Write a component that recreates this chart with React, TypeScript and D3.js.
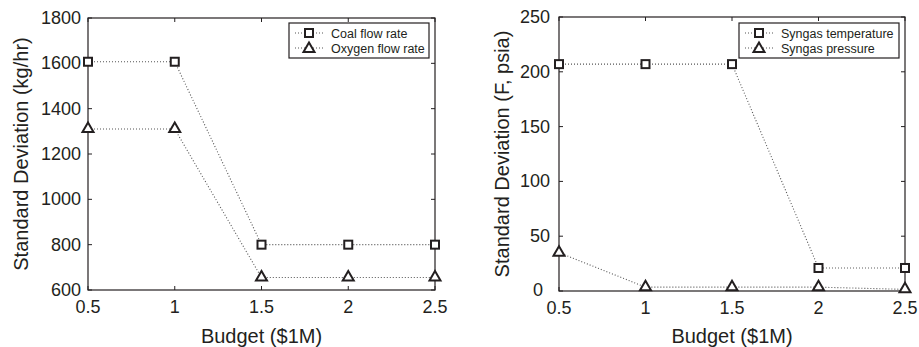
import { useEffect, useRef } from "react";
import * as d3 from "d3";

const budgets = [0.5, 1, 1.5, 2, 2.5];
const xTicks = [0.5, 1, 1.5, 2, 2.5];

const coalFlow = [1607, 1607, 800, 800, 800];
const oxygenFlow = [1310, 1310, 655, 655, 655];
const leftTicks = [600, 800, 1000, 1200, 1400, 1600, 1800];

const syngasTemp = [207, 207, 207, 21, 21];
const syngasPressure = [35, 3.5, 3.5, 3.5, 1.5];
const rightTicks = [0, 50, 100, 150, 200, 250];

const seriesNames = [
  ["Coal flow rate", "Oxygen flow rate"],
  ["Syngas temperature", "Syngas pressure"],
];

const INK = "#231f20";
const FONT = "'Liberation Sans', Arial, sans-serif";

function App() {
  const svgRef = useRef<SVGSVGElement>(null);

  useEffect(() => {
    const width = 919;
    const height = 347;
    const svg = d3.select(svgRef.current);
    svg.selectAll("*").remove();
    svg.attr("width", width).attr("height", height);

    svg.append("rect").attr("width", width).attr("height", height).attr("fill", "#fff");

    const panels = [
      {
        box: { x0: 88, x1: 435, y0: 18, y1: 290 },
        domain: [600, 1800],
        ticks: leftTicks,
        series: [coalFlow, oxygenFlow],
        names: seriesNames[0],
        yLabel: "Standard Deviation (kg/hr)",
        yLabelX: 21,
        gap: 7,
        legend: { x: 289, y: 23, w: 140, h: 35 },
      },
      {
        box: { x0: 559, x1: 905, y0: 17, y1: 291 },
        domain: [0, 250],
        ticks: rightTicks,
        series: [syngasTemp, syngasPressure],
        names: seriesNames[1],
        yLabel: "Standard Deviation (F, psia)",
        yLabelX: 502,
        gap: 9,
        legend: { x: 739, y: 23, w: 160, h: 35 },
      },
    ];

    const markerSquare = (g: any, x: number, y: number) =>
      g
        .append("rect")
        .attr("x", x - 4)
        .attr("y", y - 4)
        .attr("width", 8)
        .attr("height", 8)
        .attr("fill", "#fff")
        .attr("stroke", INK)
        .attr("stroke-width", 2);

    const markerTriangle = (g: any, x: number, y: number) =>
      g
        .append("path")
        .attr("d", `M${x},${y - 5.5}L${x + 5.5},${y + 4}L${x - 5.5},${y + 4}Z`)
        .attr("fill", "#fff")
        .attr("stroke", INK)
        .attr("stroke-width", 2)
        .attr("stroke-linejoin", "miter");

    panels.forEach(p => {
      const x = d3.scaleLinear().domain([0.5, 2.5]).range([p.box.x0, p.box.x1]);
      const y = d3.scaleLinear().domain(p.domain).range([p.box.y1, p.box.y0]);
      const g = svg.append("g");

      // box
      g.append("rect")
        .attr("x", p.box.x0)
        .attr("y", p.box.y0)
        .attr("width", p.box.x1 - p.box.x0)
        .attr("height", p.box.y1 - p.box.y0)
        .attr("fill", "none")
        .attr("stroke", INK)
        .attr("stroke-width", 1.2);

      // ticks inside, all sides
      xTicks.forEach(t => {
        g.append("line").attr("x1", x(t)).attr("x2", x(t)).attr("y1", p.box.y1).attr("y2", p.box.y1 - 4).attr("stroke", INK);
        g.append("line").attr("x1", x(t)).attr("x2", x(t)).attr("y1", p.box.y0).attr("y2", p.box.y0 + 4).attr("stroke", INK);
        g.append("text")
          .attr("x", x(t))
          .attr("y", p.box.y1 + 23)
          .attr("text-anchor", "middle")
          .attr("font-size", 18)
          .attr("fill", INK)
          .text(d3.format("")(t));
      });
      p.ticks.forEach(t => {
        g.append("line").attr("x1", p.box.x0).attr("x2", p.box.x0 + 4).attr("y1", y(t)).attr("y2", y(t)).attr("stroke", INK);
        g.append("line").attr("x1", p.box.x1).attr("x2", p.box.x1 - 4).attr("y1", y(t)).attr("y2", y(t)).attr("stroke", INK);
        g.append("text")
          .attr("x", p.box.x0 - (t === 0 ? 16 : p.gap))
          .attr("y", y(t) + (t === 0 ? 5 : 6))
          .attr("text-anchor", "end")
          .attr("font-size", 18)
          .attr("fill", INK)
          .text(t);
      });

      // series lines + markers
      const line = d3
        .line<number>()
        .x((_, i) => x(budgets[i]))
        .y(d => y(d));
      p.series.forEach((s, si) => {
        g.append("path")
          .attr("d", line(s))
          .attr("fill", "none")
          .attr("stroke", "#555")
          .attr("stroke-width", 1.1)
          .attr("stroke-dasharray", "1,2");
        s.forEach((v, i) => {
          if (si === 0) markerSquare(g, x(budgets[i]), y(v));
          else markerTriangle(g, x(budgets[i]), y(v) - 1);
        });
      });

      // axis labels
      g.append("text")
        .attr("x", (p.box.x0 + p.box.x1) / 2)
        .attr("y", 343)
        .attr("text-anchor", "middle")
        .attr("font-size", 20)
        .attr("fill", INK)
        .text("Budget ($1M)");
      g.append("text")
        .attr("transform", `translate(${p.yLabelX + 7},${(p.box.y0 + p.box.y1) / 2}) rotate(-90)`)
        .attr("text-anchor", "middle")
        .attr("font-size", 20)
        .attr("fill", INK)
        .text(p.yLabel);

      // legend
      const L = p.legend;
      const lg = g.append("g");
      lg.append("rect")
        .attr("x", L.x)
        .attr("y", L.y)
        .attr("width", L.w)
        .attr("height", L.h)
        .attr("fill", "#fff")
        .attr("stroke", INK)
        .attr("stroke-width", 1.2);
      p.names.forEach((name, i) => {
        const cy = L.y + 10 + i * 15;
        lg.append("line")
          .attr("x1", L.x + 6)
          .attr("x2", L.x + 34)
          .attr("y1", cy)
          .attr("y2", cy)
          .attr("stroke", "#555")
          .attr("stroke-width", 1.1)
          .attr("stroke-dasharray", "1,2");
        if (i === 0) markerSquare(lg, L.x + 20, cy);
        else markerTriangle(lg, L.x + 20, cy);
        lg.append("text")
          .attr("x", L.x + 42)
          .attr("y", cy + 4.5)
          .attr("font-size", 12.5)
          .attr("fill", INK)
          .text(name);
      });
    });
  }, []);

  return (
    <svg
      ref={svgRef}
      style={{ position: "absolute", left: 0, top: 0, display: "block", fontFamily: FONT }}
    />
  );
}

export default App;
